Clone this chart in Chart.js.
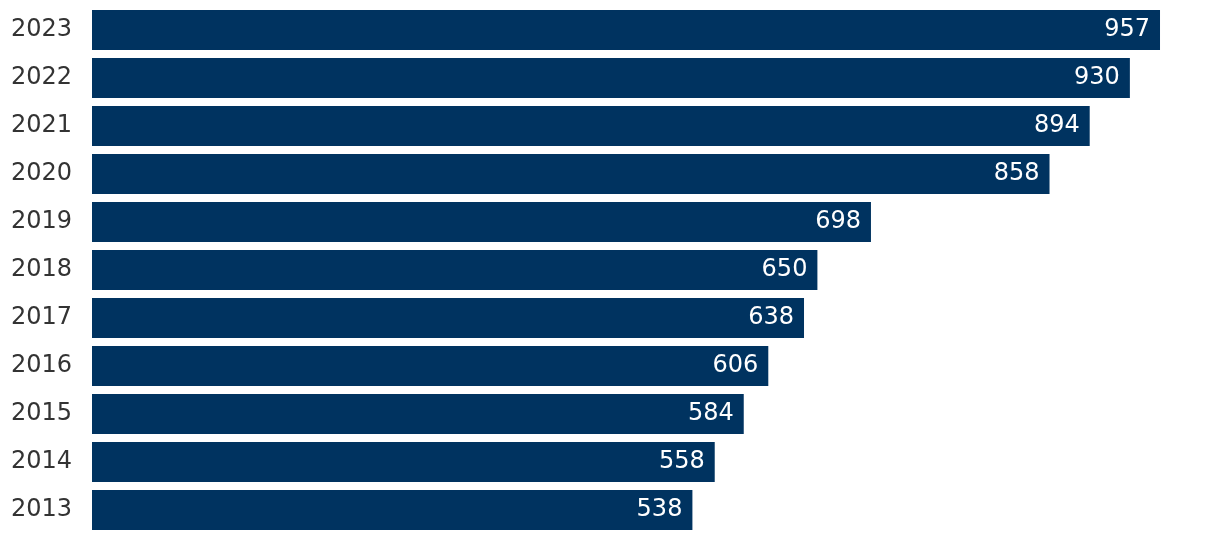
<!DOCTYPE html>
<html>
<head>
<meta charset="utf-8">
<script src="https://cdn.jsdelivr.net/npm/chart.js"></script>
<style>
  html, body { margin: 0; padding: 0; background: #fff; }
  canvas { display: block; }
</style>
</head>
<body>
<canvas id="chart" width="1220" height="540"></canvas>
<script>
// data, top to bottom
const years = ['2023', '2022', '2021', '2020', '2019', '2018', '2017', '2016', '2015', '2014', '2013'];
const values = [957, 930, 894, 858, 698, 650, 638, 606, 584, 558, 538];

const barColor = '#003360';
const fontFamily = '"DejaVu Sans", Verdana, sans-serif';

// draws the value inside the end of each bar
const valueLabels = {
  id: 'valueLabels',
  afterDatasetsDraw(chart) {
    const ctx = chart.ctx;
    const meta = chart.getDatasetMeta(0);
    ctx.save();
    ctx.font = '24px ' + fontFamily;
    ctx.fillStyle = '#ffffff';
    ctx.textAlign = 'right';
    ctx.textBaseline = 'middle';
    meta.data.forEach((bar, i) => {
      ctx.fillText(String(values[i]), bar.x - 10, bar.y);
    });
    ctx.restore();
  }
};

const ctx = document.getElementById('chart').getContext('2d');
new Chart(ctx, {
  type: 'bar',
  data: {
    labels: years,
    datasets: [{
      data: values,
      backgroundColor: barColor,
      borderWidth: 0,
      categoryPercentage: 1,
      barPercentage: 40 / 48
    }]
  },
  options: {
    indexAxis: 'y',
    responsive: false,
    animation: false,
    layout: { padding: { top: 6, bottom: 6, left: 0, right: 12 } },
    plugins: {
      legend: { display: false },
      tooltip: { enabled: false }
    },
    scales: {
      x: {
        display: false,
        min: 0,
        max: 1000
      },
      y: {
        grid: { display: false, drawTicks: false },
        border: { display: false },
        ticks: {
          padding: 20,
          color: '#333333',
          font: { family: fontFamily, size: 24 }
        },
        afterFit(scale) {
          scale.width = 92;
          scale.paddingTop = 0;
          scale.paddingBottom = 0;
        }
      }
    }
  },
  plugins: [valueLabels]
});
</script>
</body>
</html>
